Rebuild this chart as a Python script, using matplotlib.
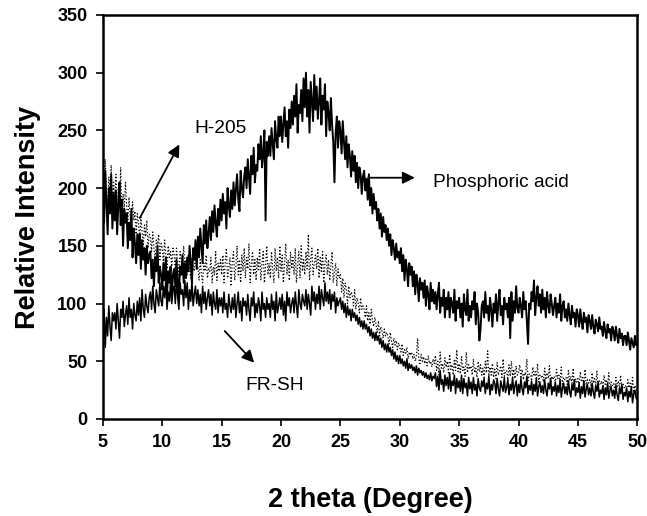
import numpy as np
import matplotlib
matplotlib.use('Agg')
import matplotlib.pyplot as plt

# 2 theta sampled every 0.1 degree, 5 .. 50
two_theta = np.round(np.arange(5.0, 50.05, 0.1), 1)

phosphoric = [
    205, 170, 215, 188, 160, 200, 178, 212, 165, 195,
    172, 198, 160, 185, 205, 168, 190, 150, 182, 170,
    178, 148, 170, 155, 182, 140, 165, 152, 135, 160,
    142, 160, 130, 155, 138, 148, 125, 150, 135, 142,
    145, 122, 138, 115, 140, 128, 150, 118, 132, 125,
    112, 135, 120, 140, 108, 128, 118, 132, 105, 125,
    130, 115, 138, 120, 105, 132, 125, 142, 118, 135,
    122, 140, 128, 150, 135, 118, 148, 138, 155, 130,
    158, 140, 165, 150, 135, 168, 152, 172, 148, 160,
    175, 155, 180, 162, 185, 170, 158, 182, 168, 190,
    172, 195, 178, 188, 165, 200, 185, 175, 198, 182,
    205, 185, 198, 212, 190, 180, 215, 200, 192, 210,
    218, 200, 225, 210, 195, 228, 212, 235, 205, 220,
    215, 238, 225, 245, 218, 230, 250, 172, 240, 228,
    245, 228, 252, 238, 225, 258, 242, 235, 262, 245,
    262, 240, 255, 270, 245, 258, 235, 268, 252, 275,
    255, 280, 262, 290, 248, 272, 265, 285, 258, 295,
    270, 300, 262, 285, 248, 292, 275, 258, 298, 268,
    288, 260, 275, 295, 255, 280, 268, 290, 245, 275,
    265, 250, 278, 255, 240, 205, 248, 262, 235, 258,
    250, 230, 258, 240, 225, 245, 218, 238, 228, 210,
    232, 215, 228, 205, 222, 200, 218, 212, 195, 210,
    215, 198, 208, 190, 212, 185, 200, 178, 195, 182,
    188, 172, 182, 165, 178, 158, 175, 162, 168, 155,
    165, 150, 160, 142, 155, 148, 138, 152, 140, 145,
    135, 148, 128, 142, 120, 138, 130, 115, 135, 125,
    132, 115, 128, 108, 125, 118, 102, 122, 112, 118,
    105, 120, 98, 115, 108, 95, 118, 102, 112, 100,
    110, 95, 108, 118, 92, 105, 98, 112, 88, 105,
    95, 110, 88, 105, 100, 92, 112, 85, 102, 96,
    105, 88, 100, 80, 108, 95, 90, 112, 85, 98,
    88, 102, 95, 110, 82, 100, 92, 68, 78, 98,
    102, 88, 110, 92, 98, 85, 105, 95, 80, 100,
    92, 108, 85, 100, 112, 90, 98, 82, 105, 95,
    100, 88, 105, 70, 110, 85, 102, 92, 115, 96,
    92, 105, 98, 88, 110, 95, 102, 85, 65, 100,
    95, 110, 102, 120, 90, 105, 115, 98, 108, 92,
    112, 95, 105, 88, 110, 98, 92, 108, 100, 90,
    98, 105, 88, 100, 92, 108, 85, 98, 102, 88,
    95, 85, 100, 90, 82, 98, 88, 92, 80, 95,
    90, 80, 95, 85, 78, 92, 84, 88, 75, 90,
    85, 78, 90, 80, 74, 86, 82, 76, 88, 78,
    80, 72, 84, 76, 70, 82, 75, 78, 68, 80,
    76, 68, 80, 72, 66, 78, 70, 74, 64, 72,
    72, 64, 75, 68, 60, 70, 66, 62, 72, 64,
    65,
]

h205 = [
    215, 185, 225, 192, 178, 210, 195, 220, 182, 205,
    190, 212, 178, 200, 185, 218, 172, 195, 182, 205,
    185, 170, 192, 175, 165, 188, 172, 180, 160, 178,
    170, 155, 175, 162, 150, 168, 158, 172, 148, 160,
    158, 145, 162, 148, 140, 155, 150, 160, 138, 152,
    148, 135, 155, 142, 130, 150, 140, 145, 132, 148,
    142, 128, 148, 135, 125, 145, 138, 130, 150, 135,
    138, 125, 142, 130, 122, 140, 132, 128, 145, 130,
    132, 120, 138, 125, 118, 135, 128, 142, 122, 130,
    128, 140, 118, 132, 125, 145, 120, 135, 128, 138,
    125, 142, 118, 135, 148, 122, 130, 140, 115, 138,
    145, 120, 132, 150, 125, 138, 118, 142, 128, 148,
    122, 140, 130, 152, 118, 135, 145, 125, 138, 120,
    140, 128, 148, 120, 135, 145, 118, 132, 150, 125,
    135, 122, 145, 130, 118, 148, 128, 140, 122, 150,
    128, 142, 118, 135, 152, 125, 138, 120, 145, 130,
    140, 125, 148, 118, 135, 145, 122, 150, 128, 138,
    125, 145, 130, 160, 120, 138, 148, 125, 135, 142,
    130, 148, 122, 140, 128, 145, 118, 135, 142, 125,
    138, 120, 132, 145, 118, 128, 135, 115, 130, 122,
    125, 110, 122, 105, 118, 112, 100, 115, 105, 110,
    108, 98, 112, 95, 105, 100, 92, 105, 95, 98,
    95, 88, 98, 85, 92, 82, 95, 85, 80, 88,
    82, 75, 85, 72, 80, 76, 70, 78, 72, 75,
    72, 65, 75, 68, 62, 70, 64, 68, 60, 66,
    62, 58, 65, 55, 60, 57, 62, 52, 58, 55,
    58, 52, 56, 50, 55, 70, 52, 48, 56, 50,
    54, 48, 52, 46, 55, 48, 50, 45, 52, 48,
    55, 42, 50, 38, 58, 44, 48, 40, 53, 45,
    50, 40, 56, 43, 47, 38, 52, 42, 60, 41,
    48, 39, 54, 42, 45, 37, 58, 40, 47, 43,
    46, 38, 52, 40, 44, 36, 50, 41, 47, 38,
    44, 36, 50, 40, 59, 37, 45, 38, 48, 36,
    43, 35, 49, 38, 42, 46, 36, 52, 37, 41,
    42, 34, 47, 37, 50, 36, 43, 35, 46, 38,
    40, 47, 35, 43, 34, 40, 38, 52, 33, 39,
    39, 33, 45, 37, 41, 34, 48, 32, 38, 36,
    38, 32, 44, 34, 40, 35, 46, 31, 37, 34,
    37, 31, 43, 35, 38, 33, 45, 30, 36, 34,
    36, 30, 42, 33, 37, 31, 44, 29, 35, 32,
    35, 29, 41, 32, 36, 30, 43, 28, 34, 31,
    34, 28, 40, 31, 35, 29, 42, 27, 33, 30,
    33, 27, 38, 30, 34, 28, 40, 26, 32, 29,
    31, 26, 36, 28, 33, 27, 38, 25, 30, 27,
    29, 24, 34, 27, 31, 25, 36, 23, 29, 26,
    25,
]

fr_sh = [
    75, 95, 62, 88, 72, 98, 80, 68, 92, 85,
    92, 78, 100, 85, 70, 95, 88, 102, 80, 90,
    98, 82, 105, 88, 95, 78, 100, 90, 85, 102,
    90, 105, 85, 112, 95, 88, 108, 98, 92, 105,
    110, 95, 115, 100, 92, 112, 105, 98, 118, 102,
    98, 115, 105, 120, 95, 110, 102, 118, 100, 112,
    115, 100, 122, 105, 95, 118, 108, 112, 98, 120,
    105, 118, 95, 112, 102, 120, 98, 108, 115, 100,
    112, 98, 108, 92, 115, 100, 110, 95, 105, 112,
    98, 108, 90, 110, 100, 95, 112, 92, 105, 98,
    105, 92, 110, 95, 100, 88, 108, 98, 92, 105,
    95, 108, 88, 100, 110, 92, 102, 85, 105, 98,
    102, 90, 108, 95, 85, 105, 98, 110, 88, 100,
    92, 105, 98, 85, 110, 95, 100, 88, 105, 95,
    100, 88, 108, 95, 102, 85, 110, 92, 98, 105,
    95, 108, 90, 102, 85, 110, 98, 105, 92, 100,
    105, 92, 110, 98, 88, 112, 100, 95, 108, 102,
    98, 112, 95, 108, 100, 90, 115, 102, 110, 95,
    108, 100, 115, 95, 112, 105, 98, 118, 102, 110,
    100, 112, 95, 108, 102, 110, 92, 105, 98, 102,
    105, 95, 102, 92, 100, 88, 98, 90, 95, 85,
    95, 88, 92, 85, 90, 82, 88, 80, 85, 78,
    85, 78, 82, 75, 80, 72, 78, 70, 75, 68,
    75, 68, 72, 65, 70, 62, 68, 60, 65, 58,
    65, 58, 62, 55, 60, 52, 58, 50, 55, 48,
    55, 48, 52, 46, 50, 44, 52, 42, 48, 44,
    47, 42, 45, 40, 46, 38, 44, 40, 42, 38,
    41, 36, 40, 35, 38, 34, 40, 33, 37, 35,
    40, 28, 37, 25, 42, 30, 34, 24, 38, 29,
    36, 26, 40, 24, 33, 29, 38, 22, 35, 27,
    33, 24, 38, 22, 35, 27, 31, 20, 36, 26,
    32, 22, 36, 25, 30, 20, 35, 27, 24, 33,
    28, 35, 22, 31, 26, 37, 21, 30, 25, 34,
    31, 22, 35, 26, 20, 33, 28, 24, 36, 23,
    27, 34, 21, 30, 25, 36, 22, 29, 33, 20,
    30, 23, 35, 26, 21, 32, 27, 37, 22, 29,
    25, 33, 21, 30, 24, 35, 20, 28, 32, 23,
    29, 22, 34, 25, 20, 31, 26, 35, 21, 28,
    24, 32, 20, 29, 23, 34, 19, 27, 31, 22,
    28, 21, 33, 24, 19, 30, 25, 34, 20, 27,
    23, 31, 18, 28, 22, 33, 19, 26, 30, 21,
    27, 20, 31, 23, 18, 29, 24, 32, 19, 25,
    22, 29, 17, 27, 21, 31, 18, 25, 28, 20,
    25, 18, 29, 21, 16, 27, 22, 30, 17, 23,
    20, 27, 15, 24, 19, 28, 14, 22, 25, 18,
    17,
]

x_ticks = [5, 10, 15, 20, 25, 30, 35, 40, 45, 50]
y_ticks = [0, 50, 100, 150, 200, 250, 300, 350]

plt.rcParams['font.family'] = ['Liberation Sans', 'DejaVu Sans']

fig = plt.figure(figsize=(6.47, 5.16), dpi=100)
ax = fig.add_axes([0.159, 0.188, 0.826, 0.783])

ax.plot(two_theta, h205, color='black', linestyle=':', linewidth=0.9)
ax.plot(two_theta, fr_sh, color='black', linestyle='-', linewidth=1.1)
ax.plot(two_theta, phosphoric, color='black', linestyle='-', linewidth=1.4)

ax.set_xlim(5, 50)
ax.set_ylim(0, 350)
ax.set_xticks(x_ticks)
ax.set_yticks(y_ticks)
ax.set_xticklabels([str(t) for t in x_ticks], fontsize=13, fontweight='bold')
ax.set_yticklabels([str(t) for t in y_ticks], fontsize=13, fontweight='bold')
ax.tick_params(direction='out', length=5, width=1.2, pad=6)
for s in ax.spines.values():
    s.set_linewidth(1.8)

ax.set_xlabel('2 theta (Degree)', fontsize=19.5, fontweight='bold', labelpad=26)
ax.set_ylabel('Relative Intensity', fontsize=19.5, fontweight='bold', labelpad=12)

arrow = dict(arrowstyle='-|>', color='black', lw=1.3, mutation_scale=18)
ax.annotate('', xy=(11.55, 240), xytext=(8.0, 172), arrowprops=arrow)
ax.text(12.7, 252, 'H-205', fontsize=13.8, va='center', ha='left')

ax.annotate('', xy=(31.5, 209), xytext=(27.1, 209), arrowprops=arrow)
ax.text(32.8, 205, 'Phosphoric acid', fontsize=13.8, va='center', ha='left')

ax.annotate('', xy=(17.9, 47), xytext=(15.1, 78), arrowprops=arrow)
ax.text(17.0, 28.6, 'FR-SH', fontsize=13.8, va='center', ha='left')

plt.savefig('out.png', dpi=100)
